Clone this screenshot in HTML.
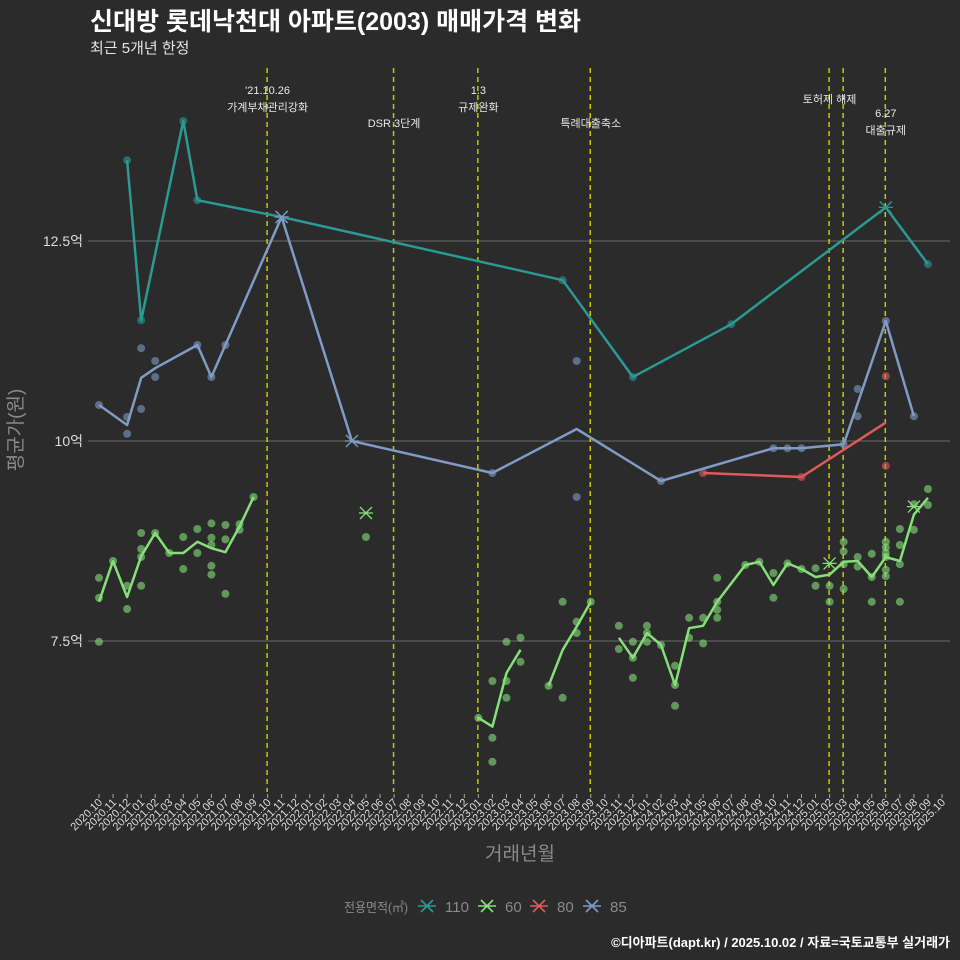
<!DOCTYPE html>
<html><head><meta charset="utf-8">
<style>
html,body{margin:0;padding:0;background:#2b2b2b;}
svg{display:block;font-family:"Liberation Sans","Noto Sans CJK KR",sans-serif;}
</style></head>
<body>
<svg id="chart" width="960" height="960" viewBox="0 0 960 960">
<rect x="0" y="0" width="960" height="960" fill="#2b2b2b"/>
<text x="90" y="30" font-size="25" font-weight="bold" fill="#ffffff">신대방 롯데낙천대 아파트(2003) 매매가격 변화</text>
<text x="90" y="53" font-size="15" fill="#e6e6e6">최근 5개년 한정</text>
<g id="grid"></g>
<g id="vlines"></g>
<g id="series"></g>
<g id="xaxis"></g>
<text x="520" y="860" font-size="19" fill="#8a8a8a" text-anchor="middle">거래년월</text>
<text transform="translate(22,430) rotate(-90)" font-size="19" fill="#8a8a8a" text-anchor="middle">평균가(원)</text>
<g id="legend"></g>
<text x="950" y="947" font-size="13" font-weight="bold" fill="#ffffff" text-anchor="end">©디아파트(dapt.kr) / 2025.10.02 / 자료=국토교통부 실거래가</text>
</svg>
<script>
// month index 0 = 2020.10
const monthLabels = [];
for (let i = 0; i <= 60; i++) { const y = 2020 + Math.floor((9 + i) / 12); const m = (9 + i) % 12 + 1; monthLabels.push(y + '.' + (m < 10 ? '0' + m : m)); }
const yTicks = [7.5, 10, 12.5];
const yTickLabels = ['7.5억', '10억', '12.5억'];
const eventMonths = [12, 21, 27, 35, 52, 53, 56];

const s110LineM = [2, 3, 6, 7, 13, 33, 38, 45, 56, 59];
const s110LineV = [13.51, 11.51, 14.0, 13.01, 12.8, 12.01, 10.8, 11.46, 12.92, 12.21];
const s110DotM = [2, 3, 6, 7, 33, 38, 45, 59];
const s110DotV = [13.51, 11.51, 14.0, 13.01, 12.01, 10.8, 11.46, 12.21];
const s110XM = [13, 56];
const s110XV = [12.8, 12.92];

const s85LineM = [0, 2, 3, 4, 7, 8, 9, 13, 18, 28, 34, 40, 48, 49, 50, 53, 56, 58];
const s85LineV = [10.45, 10.2, 10.79, 10.91, 11.2, 10.8, 11.2, 12.8, 10.0, 9.6, 10.15, 9.5, 9.91, 9.91, 9.91, 9.96, 11.5, 10.31];
const s85DotM = [0, 2, 2, 3, 3, 4, 4, 7, 8, 9, 28, 34, 34, 40, 48, 49, 50, 53, 54, 54, 56, 58];
const s85DotV = [10.45, 10.3, 10.09, 11.16, 10.4, 11.0, 10.8, 11.2, 10.8, 11.2, 9.6, 11.0, 9.3, 9.5, 9.91, 9.91, 9.91, 9.96, 10.65, 10.31, 11.5, 10.31];
const s85XM = [13, 18];
const s85XV = [12.8, 10.0];

const s80LineM = [43, 50, 56];
const s80LineV = [9.6, 9.55, 10.23];
const s80DotM = [43, 50, 56, 56];
const s80DotV = [9.6, 9.55, 10.81, 9.69];

const s60Segs = [[0, 11], [27, 30], [32, 35], [37, 59]];
const s60LineM = [0,1,2,3,4,5,6,7,8,9,10,11, 27,28,29,30, 32,33,34,35, 37,38,39,40,41,42,43,44,46,47,48,49,50,51,52,53,54,55,56,57,58,59];
const s60LineV = [7.99,8.5,8.05,8.56,8.85,8.6,8.6,8.74,8.66,8.61,8.93,9.3, 6.54,6.43,7.1,7.39, 6.94,7.39,7.68,7.99, 7.54,7.29,7.6,7.45,6.95,7.66,7.69,7.99,8.45,8.49,8.2,8.47,8.4,8.3,8.33,8.49,8.5,8.3,8.55,8.5,9.08,9.29];
const s60DotM = [0,0,0,1,2,2,3,3,3,3,4,5,6,6,7,7,8,8,8,8,8,9,9,9,10,10,11,19, 27,28,28,28,29,29,29,30,30, 32,33,33,34,34,35, 37,37,38,38,38,39,39,39,40,41,41,41,42,42,43,43,44,44,44,44,46,47,48,48,49,50,51,51,52,52,53,53,53,53,54,54,55,55,55,56,56,56,56,56,56,57,57,57,57,58,58,59,59];
const s60DotV = [8.29,8.04,7.49,8.5,8.19,7.9,8.85,8.65,8.55,8.19,8.85,8.6,8.8,8.4,8.9,8.6,8.97,8.79,8.7,8.44,8.33,8.95,8.77,8.09,8.96,8.89,9.3,8.8, 6.54,7.0,6.29,5.99,7.49,7.0,6.79,7.54,7.24, 6.94,7.99,6.79,7.74,7.6,7.99, 7.69,7.4,7.49,7.04,7.29,7.69,7.49,7.6,7.45,7.19,6.69,6.95,7.79,7.54,7.79,7.47,8.29,7.99,7.89,7.79,8.45,8.49,8.35,8.04,8.47,8.4,8.41,8.19,8.19,7.99,8.74,8.62,8.46,8.15,8.55,8.43,8.59,8.3,7.99,8.74,8.67,8.6,8.55,8.39,8.31,8.9,8.7,8.46,7.99,9.21,8.89,9.4,9.2];
const s60XM = [19, 52, 58];
const s60XV = [9.1, 8.47, 9.18];

const NS = 'http://www.w3.org/2000/svg';
const X0 = 99, DX = 14.05;
function xScale(m) { return X0 + m * DX; }
function yScale(v) { return 441 - (v - 10) * 80; }
function mk(tag, attrs, parent) { const e = document.createElementNS(NS, tag); for (const k in attrs) e.setAttribute(k, attrs[k]); parent.appendChild(e); return e; }

const grid = document.getElementById('grid');
yTicks.forEach((t, i) => {
  const l = mk('line', {x1: 88, x2: 950, y1: yScale(t), y2: yScale(t), stroke: '#6a6a6a', 'stroke-width': 1}, grid);
  
  
  const tx = mk('text', {x: 83, y: yScale(t) + 5, 'font-size': 14, fill: '#dddddd', 'text-anchor': 'end'}, grid);
  tx.textContent = yTickLabels[i];
  
  
});

const vl = document.getElementById('vlines');
eventMonths.forEach(m => {
  const l = mk('line', {x1: xScale(m) - 0.5, x2: xScale(m) - 0.5, y1: 68, y2: 792, stroke: '#c8c800', 'stroke-width': 1.5, 'stroke-dasharray': '5,4'}, vl);
  
  
});
const notes = [[12, 94, "'21.10.26"], [12, 111, '가계부채관리강화'], [21, 127, 'DSR 3단계'], [27, 94, '1.3'], [27, 111, '규제완화'], [35, 127, '특례대출축소'], [52, 103, '토허제 해제'], [56, 117, '6.27'], [56, 134, '대출규제']];
notes.forEach(n => {
  const t = mk('text', {x: xScale(n[0]), y: n[1], 'font-size': 11, fill: '#e8e8e8', 'text-anchor': 'middle'}, vl);
  t.textContent = n[2];
  
  
});

const xa = document.getElementById('xaxis');
monthLabels.forEach((lab, i) => {
  const x = xScale(i);
  const tk = mk('line', {x1: x, x2: x, y1: 794, y2: 798, stroke: '#aaaaaa', 'stroke-width': 1}, xa);
  
  
  const t = mk('text', {x: x + 4, y: 803, 'font-size': 11, fill: '#dddddd', 'text-anchor': 'end', transform: 'rotate(-45 ' + (x + 4) + ' 803)'}, xa);
  t.textContent = lab;
  
  
});

const sg = document.getElementById('series');
function drawDots(M, V, color, name) {
  M.forEach((m, i) => {
    const c = mk('circle', {cx: xScale(m), cy: yScale(V[i]), r: 4, fill: color, opacity: 0.6}, sg);
    
    
  });
}
function drawLine(M, V, color, name, segs) {
  const ranges = segs || [[M[0], M[M.length - 1]]];
  ranges.forEach(r => {
    const pts = [];
    M.forEach((m, i) => { if (m >= r[0] && m <= r[1]) pts.push(xScale(m).toFixed(1) + ',' + yScale(V[i]).toFixed(1)); });
    const p = mk('polyline', {points: pts.join(' '), fill: 'none', stroke: color, 'stroke-width': 2.5, 'stroke-linejoin': 'round'}, sg);
    
    
  });
}
function drawX(M, V, color, name) {
  M.forEach((m, i) => {
    const x = xScale(m), y = yScale(V[i]);
    const p = mk('path', {d: `M${x-6},${y-6}L${x+6},${y+6}M${x-6},${y+6}L${x+6},${y-6}M${x-7},${y}L${x+7},${y}`, stroke: color, 'stroke-width': 1.3, fill: 'none'}, sg);
    
    
  });
}
const C110 = '#2a9a92', C60 = '#86e07a', C80 = '#e05a5a', C85 = '#7f9bc6';
drawDots(s110DotM, s110DotV, C110, 'area-110');
drawDots(s85DotM, s85DotV, C85, 'area-85');
drawDots(s80DotM, s80DotV, C80, 'area-80');
drawDots(s60DotM, s60DotV, C60, 'area-60');
drawLine(s110LineM, s110LineV, C110, 'area-110');
drawLine(s85LineM, s85LineV, C85, 'area-85');
drawLine(s80LineM, s80LineV, C80, 'area-80');
drawLine(s60LineM, s60LineV, C60, 'area-60', s60Segs);
drawX(s110XM, s110XV, C110, 'area-110');
drawX(s85XM, s85XV, C85, 'area-85');
drawX(s60XM, s60XV, C60, 'area-60');

const lg = document.getElementById('legend');
const lt = mk('text', {x: 344, y: 912, 'font-size': 13, fill: '#8a8a8a', textLength: 64, lengthAdjust: 'spacingAndGlyphs'}, lg);
lt.textContent = '전용면적(㎡)';


const legItems = [['110', C110, 427], ['60', C60, 487], ['80', C80, 539], ['85', C85, 592]];
legItems.forEach(it => {
  const x = it[2], y = 906;
  const p = mk('path', {d: `M${x-9},${y}L${x+9},${y}M${x-6},${y-6}L${x+6},${y+6}M${x-6},${y+6}L${x+6},${y-6}`, stroke: it[1], 'stroke-width': 1.6, fill: 'none'}, lg);
  
  
  const t = mk('text', {x: x + 18, y: 912, 'font-size': 15, fill: '#8a8a8a'}, lg);
  t.textContent = it[0];
  
  
});
</script>
</body></html>
